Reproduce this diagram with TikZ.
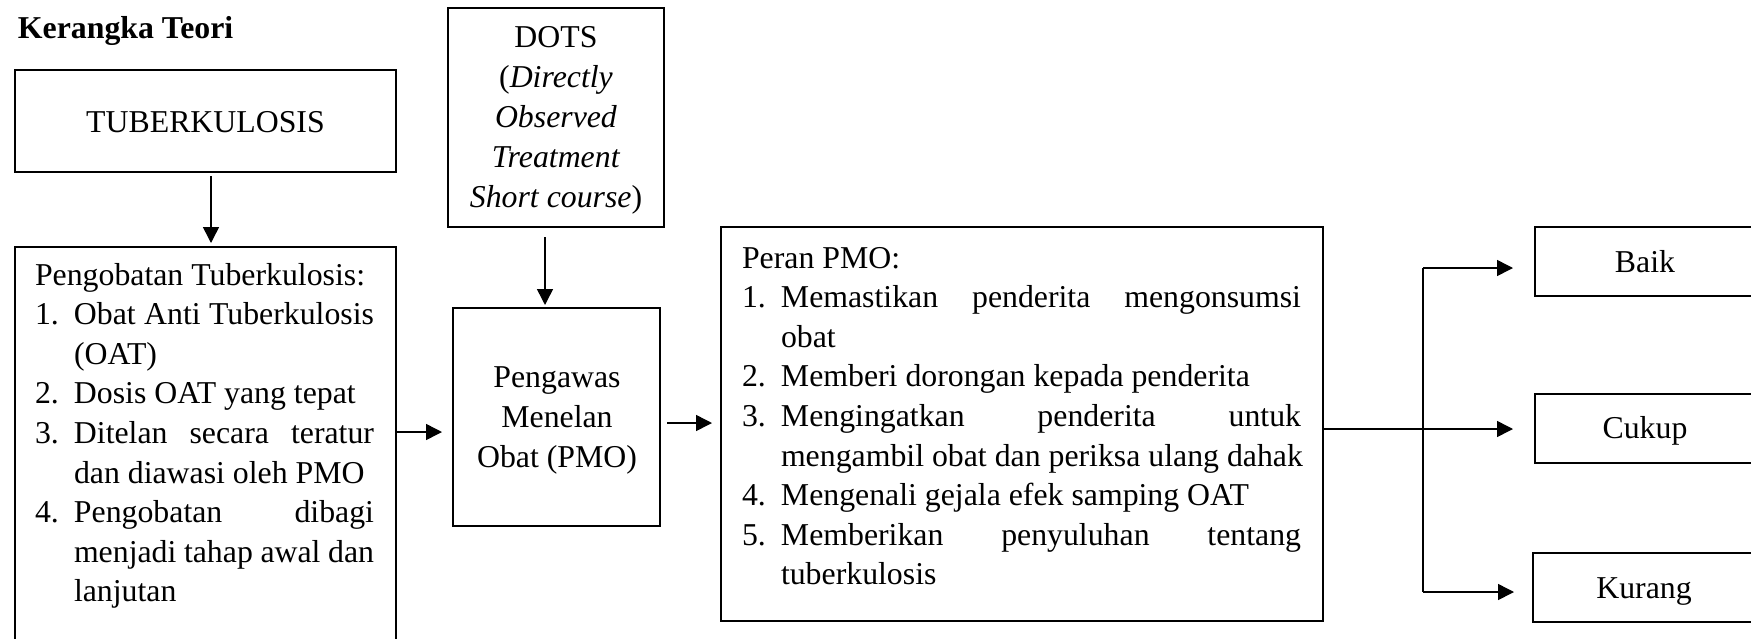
\documentclass[tikz,border=0pt]{standalone}
\usepackage{fontspec}
\setmainfont{Liberation Serif}
\usetikzlibrary{arrows.meta}
\newcommand\itm[2]{\hbox{\makebox[19.5pt][l]{#1}#2}}
\newcommand\jst[2]{\makebox[#1][s]{#2}}
\newcommand\llines[1]{\vtop{\baselineskip=19.8pt\lineskiplimit=-20pt\halign{##\hfil\cr#1\crcr}}}
\newcommand\clines[1]{\vtop{\baselineskip=20pt\lineskiplimit=-20pt\halign{\hfil##\hfil\cr#1\crcr}}}
\tikzset{
  box/.style={draw, line width=1pt, rectangle, inner sep=0pt, outer sep=0pt, anchor=north west, text height=10.5pt, text depth=0pt},
  txt/.style={inner sep=0pt, outer sep=0pt, anchor=base west},
  ctxt/.style={inner sep=0pt, outer sep=0pt, anchor=base},
  arr/.style={line width=0.75pt, -{Triangle[length=8pt,width=8pt]}},
  conn/.style={line width=0.75pt}
}
\begin{document}
\begin{tikzpicture}[x=0.5pt, y=-0.5pt, font=\fontsize{15.9pt}{20pt}\selectfont]
\useasboundingbox (0,0) rectangle (1751,638);
\clip (0,0) rectangle (1751,638);
\fill[white] (0,0) rectangle (1751,638);

% boxes
\node[box, minimum width=190.5pt, minimum height=51pt, text height=11pt] (tub) at (15,70) {TUBERKULOSIS};
\node[box, minimum width=190.5pt, minimum height=230pt] (peng) at (15,247) {};
\node[box, minimum width=108pt, minimum height=109.5pt] (dots) at (448,8) {};
\node[box, minimum width=103.5pt, minimum height=109pt] (pmo) at (453,308) {};
\node[box, line width=1.4pt, minimum width=301pt, minimum height=197pt] (peran) at (721,227) {};
\node[box, minimum width=110pt, minimum height=34.5pt] (baik) at (1535,227) {Baik};
\node[box, minimum width=110pt, minimum height=34.5pt, text height=10pt] (cukup) at (1535,394) {Cukup};
\node[box, minimum width=111pt, minimum height=34.5pt] (kurang) at (1533,553) {Kurang};

% texts
\node[txt] (title) at (18,38) {\bfseries Kerangka Teori};
\node[txt] (pengtxt) at (35,285) {\llines{Pengobatan Tuberkulosis:\cr
 \itm{1.}{\jst{150pt}{Obat Anti Tuberkulosis}}\cr
 \itm{}{(OAT)}\cr
 \itm{2.}{Dosis OAT yang tepat}\cr
 \itm{3.}{\jst{150pt}{Ditelan secara teratur}}\cr
 \itm{}{dan diawasi oleh PMO}\cr
 \itm{4.}{\jst{150pt}{Pengobatan dibagi}}\cr
 \itm{}{\jst{150pt}{menjadi tahap awal dan}}\cr
 \itm{}{lanjutan}}};
\node[ctxt] (dotstxt) at (556,47) {\clines{DOTS\cr
 (\textit{Directly}\cr
 \textit{Observed}\cr
 \textit{Treatment}\cr
 \textit{Short course})}};
\node[ctxt] (pmotxt) at (557,387) {\clines{Pengawas\cr Menelan\cr Obat (PMO)}};
\node[txt] (perantxt) at (742,268) {\llines{Peran PMO:\cr
 \itm{1.}{\jst{260pt}{Memastikan penderita mengonsumsi}}\cr
 \itm{}{obat}\cr
 \itm{2.}{Memberi dorongan kepada penderita}\cr
 \itm{3.}{\jst{260pt}{Mengingatkan penderita untuk}}\cr
 \itm{}{mengambil obat dan periksa ulang dahak}\cr
 \itm{4.}{Mengenali gejala efek samping OAT}\cr
 \itm{5.}{\jst{260pt}{Memberikan penyuluhan tentang}}\cr
 \itm{}{tuberkulosis}}};

% connectors
\draw[arr, shorten <=2pt, shorten >=2pt] ([xshift=2.75pt]tub.south) -- ([xshift=2.75pt]tub.south |- peng.north);
\draw[arr, shorten <=5pt, shorten >=1.5pt] ([xshift=-5.5pt]dots.south) -- ([xshift=-5.5pt]dots.south |- pmo.north);
\coordinate (a1) at ([yshift=-7.5pt]pmo.west);
\draw[arr, shorten >=5.5pt] (peng.east |- a1) -- (a1);
\coordinate (a2) at ([yshift=-3pt]pmo.east);
\draw[arr, shorten <=3.5pt, shorten >=4.5pt] (a2) -- (peran.west |- a2);
\coordinate (j0) at ([yshift=-2.5pt]peran.east);
\coordinate (j) at ([xshift=50pt]j0);
\coordinate (jb) at ([yshift=-3.25pt]baik.west);
\coordinate (jk) at ([yshift=-2.25pt]kurang.west);
\draw[conn] (j0) -- (j);
\draw[conn] (j |- jb) -- (j |- jk);
\draw[arr, shorten >=11pt] (j |- jb) -- (jb);
\draw[arr, shorten >=11pt] (j) -- (cukup.west |- j);
\draw[arr, shorten >=9.5pt] (j |- jk) -- (jk);
\end{tikzpicture}
\end{document}
